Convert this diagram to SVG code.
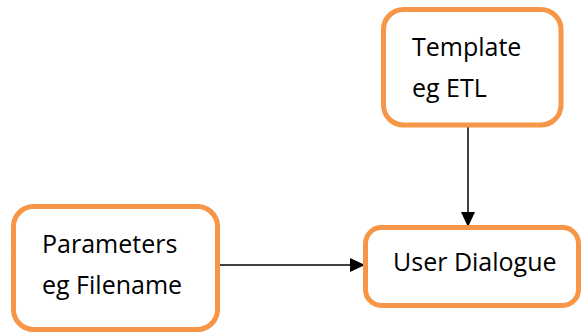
<svg xmlns="http://www.w3.org/2000/svg" width="584" height="334" viewBox="0 0 584 334">
<style>
.box{fill:#fff;stroke:#F79646;stroke-width:5}
.t{font-family:"Open Sans","Liberation Sans",sans-serif;font-size:25px;fill:#000}
.c{stroke:#000;stroke-width:1.5;fill:none}
</style>
<defs>
<marker id="ah" markerWidth="16" markerHeight="16" refX="15" refY="7" orient="auto" markerUnits="userSpaceOnUse">
<path d="M0,0 L15,7 L0,14 Z" fill="#000"/>
</marker>
</defs>
<rect width="584" height="334" fill="#fff"/>
<g id="connectors">
<line class="c" x1="468" y1="127" x2="468" y2="227" marker-end="url(#ah)"/>
<line class="c" x1="220" y1="265" x2="365" y2="265" marker-end="url(#ah)"/>
</g>
<g id="template">
<rect class="box" x="383.5" y="9.5" width="177.5" height="115.5" rx="20"/>
<text class="t" x="412" y="56">Template</text>
<text class="t" x="412" y="97">eg ETL</text>
</g>
<g id="parameters">
<rect class="box" x="13.5" y="206.5" width="204" height="123" rx="20"/>
<text class="t" x="42" y="253">Parameters</text>
<text class="t" x="42" y="294">eg Filename</text>
</g>
<g id="userdialogue">
<rect class="box" x="365.5" y="227.5" width="213" height="78" rx="16"/>
<text class="t" x="393" y="271">User Dialogue</text>
</g>
</svg>
